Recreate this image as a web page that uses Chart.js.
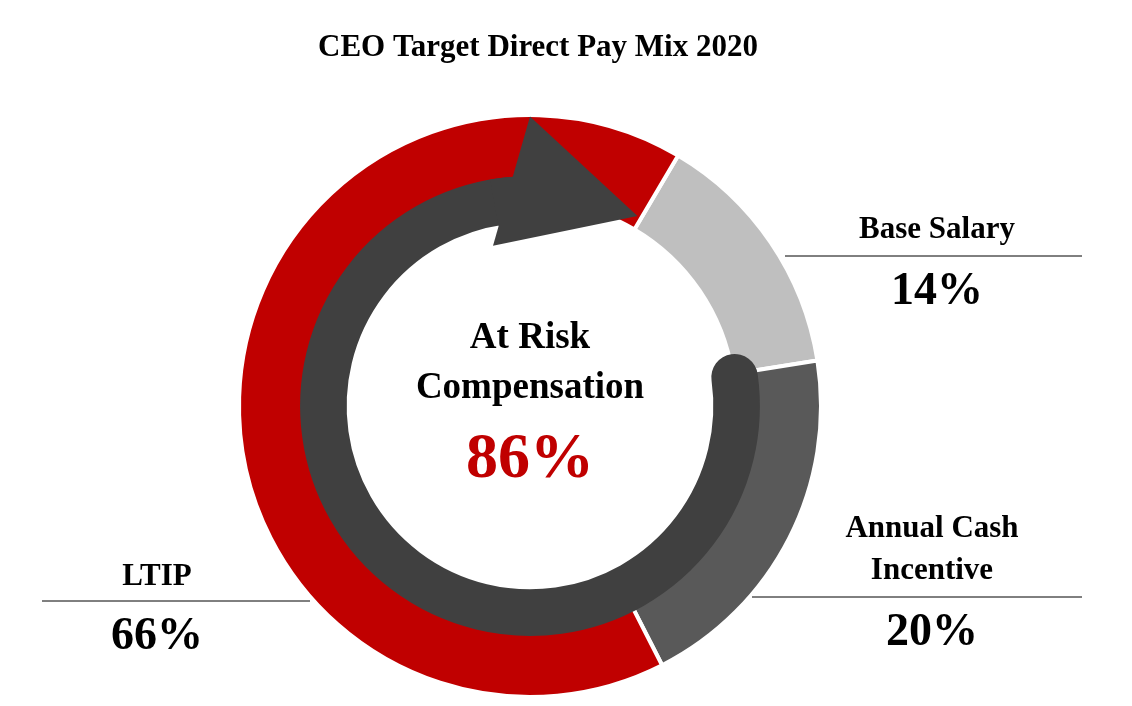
<!DOCTYPE html>
<html>
<head>
<meta charset="utf-8">
<script src="https://cdn.jsdelivr.net/npm/chart.js@4/dist/chart.umd.min.js"></script>
<style>
  html, body { margin: 0; padding: 0; background: #fff; }
  #wrap { width: 1132px; height: 706px; }
</style>
</head>
<body>
<div id="wrap"><canvas id="chart"></canvas></div>
<script>
const categories = ["Base Salary", "Annual Cash Incentive", "LTIP"];
const shares = [14, 20, 66];
const atRisk = 86;
const colors = ["#BFBFBF", "#595959", "#C00000"];
const font = "'Liberation Serif', 'Times New Roman', serif";

function polar(cx, cy, r, deg) {
  const a = (deg - 90) * Math.PI / 180;
  return [cx + r * Math.cos(a), cy + r * Math.sin(a)];
}

const overlay = {
  id: "overlay",
  afterDatasetsDraw(chart) {
    const ctx = chart.ctx;
    const arc = chart.getDatasetMeta(0).data[0];
    const cx = arc.x, cy = arc.y, R = arc.outerRadius;
    ctx.save();
    // circular arrow
    ctx.strokeStyle = "#404040";
    ctx.fillStyle = "#404040";
    ctx.lineWidth = R * 0.16;
    ctx.lineCap = "round";
    ctx.beginPath();
    ctx.arc(cx, cy, R * 0.71, (82 - 90) * Math.PI / 180, (356 - 90) * Math.PI / 180);
    ctx.stroke();
    ctx.lineCap = "butt";
    ctx.beginPath();
    ctx.arc(cx, cy, R * 0.71, (350 - 90) * Math.PI / 180, (358 - 90) * Math.PI / 180);
    ctx.stroke();
    const p1 = polar(cx, cy, R * 0.995, 0);
    const p2 = polar(cx, cy, R * 0.565, -13);
    const p3 = polar(cx, cy, R * 0.75, 29.5);
    ctx.beginPath();
    ctx.moveTo(p1[0], p1[1]);
    ctx.lineTo(p3[0], p3[1]);
    ctx.lineTo(p2[0], p2[1]);
    ctx.closePath();
    ctx.fill();

    // texts
    ctx.textAlign = "center";
    ctx.textBaseline = "middle";
    ctx.fillStyle = "#000";
    ctx.font = "bold 31px " + font;
    ctx.fillText("CEO Target Direct Pay Mix 2020", 538, 48);
    ctx.font = "bold 37px " + font;
    ctx.fillText("At Risk", 530, 338);
    ctx.fillText("Compensation", 530, 388);
    ctx.fillStyle = "#C00000";
    ctx.font = "bold 64px " + font;
    ctx.fillText(atRisk + "%", 530, 460);

    ctx.fillStyle = "#000";
    ctx.strokeStyle = "#000";
    ctx.lineWidth = 1;
    const line = (x1, x2, y) => { ctx.beginPath(); ctx.moveTo(x1, y); ctx.lineTo(x2, y); ctx.stroke(); };
    ctx.font = "bold 31px " + font;
    ctx.fillText("Base Salary", 937, 230);
    ctx.fillText("Annual Cash", 932, 529);
    ctx.fillText("Incentive", 932, 571);
    ctx.fillText("LTIP", 157, 577);
    line(785, 1082, 256);
    line(752, 1082, 597);
    line(42, 310, 601);
    ctx.font = "bold 46px " + font;
    ctx.fillText(shares[0] + "%", 937, 292);
    ctx.fillText(shares[1] + "%", 932, 633);
    ctx.fillText(shares[2] + "%", 157, 637);
    ctx.restore();
  }
};

new Chart(document.getElementById("chart").getContext("2d"), {
  type: "doughnut",
  data: {
    labels: categories,
    datasets: [{
      data: shares,
      backgroundColor: colors,
      borderColor: "#fff",
      borderWidth: 4,
      hoverOffset: 0
    }]
  },
  options: {
    responsive: true,
    maintainAspectRatio: false,
    animation: false,
    rotation: 30.6,
    cutout: "70.5%",
    layout: { padding: { top: 113, bottom: 7, left: 100, right: 172 } },
    plugins: { legend: { display: false }, tooltip: { enabled: false } }
  },
  plugins: [overlay]
});
</script>
</body>
</html>
